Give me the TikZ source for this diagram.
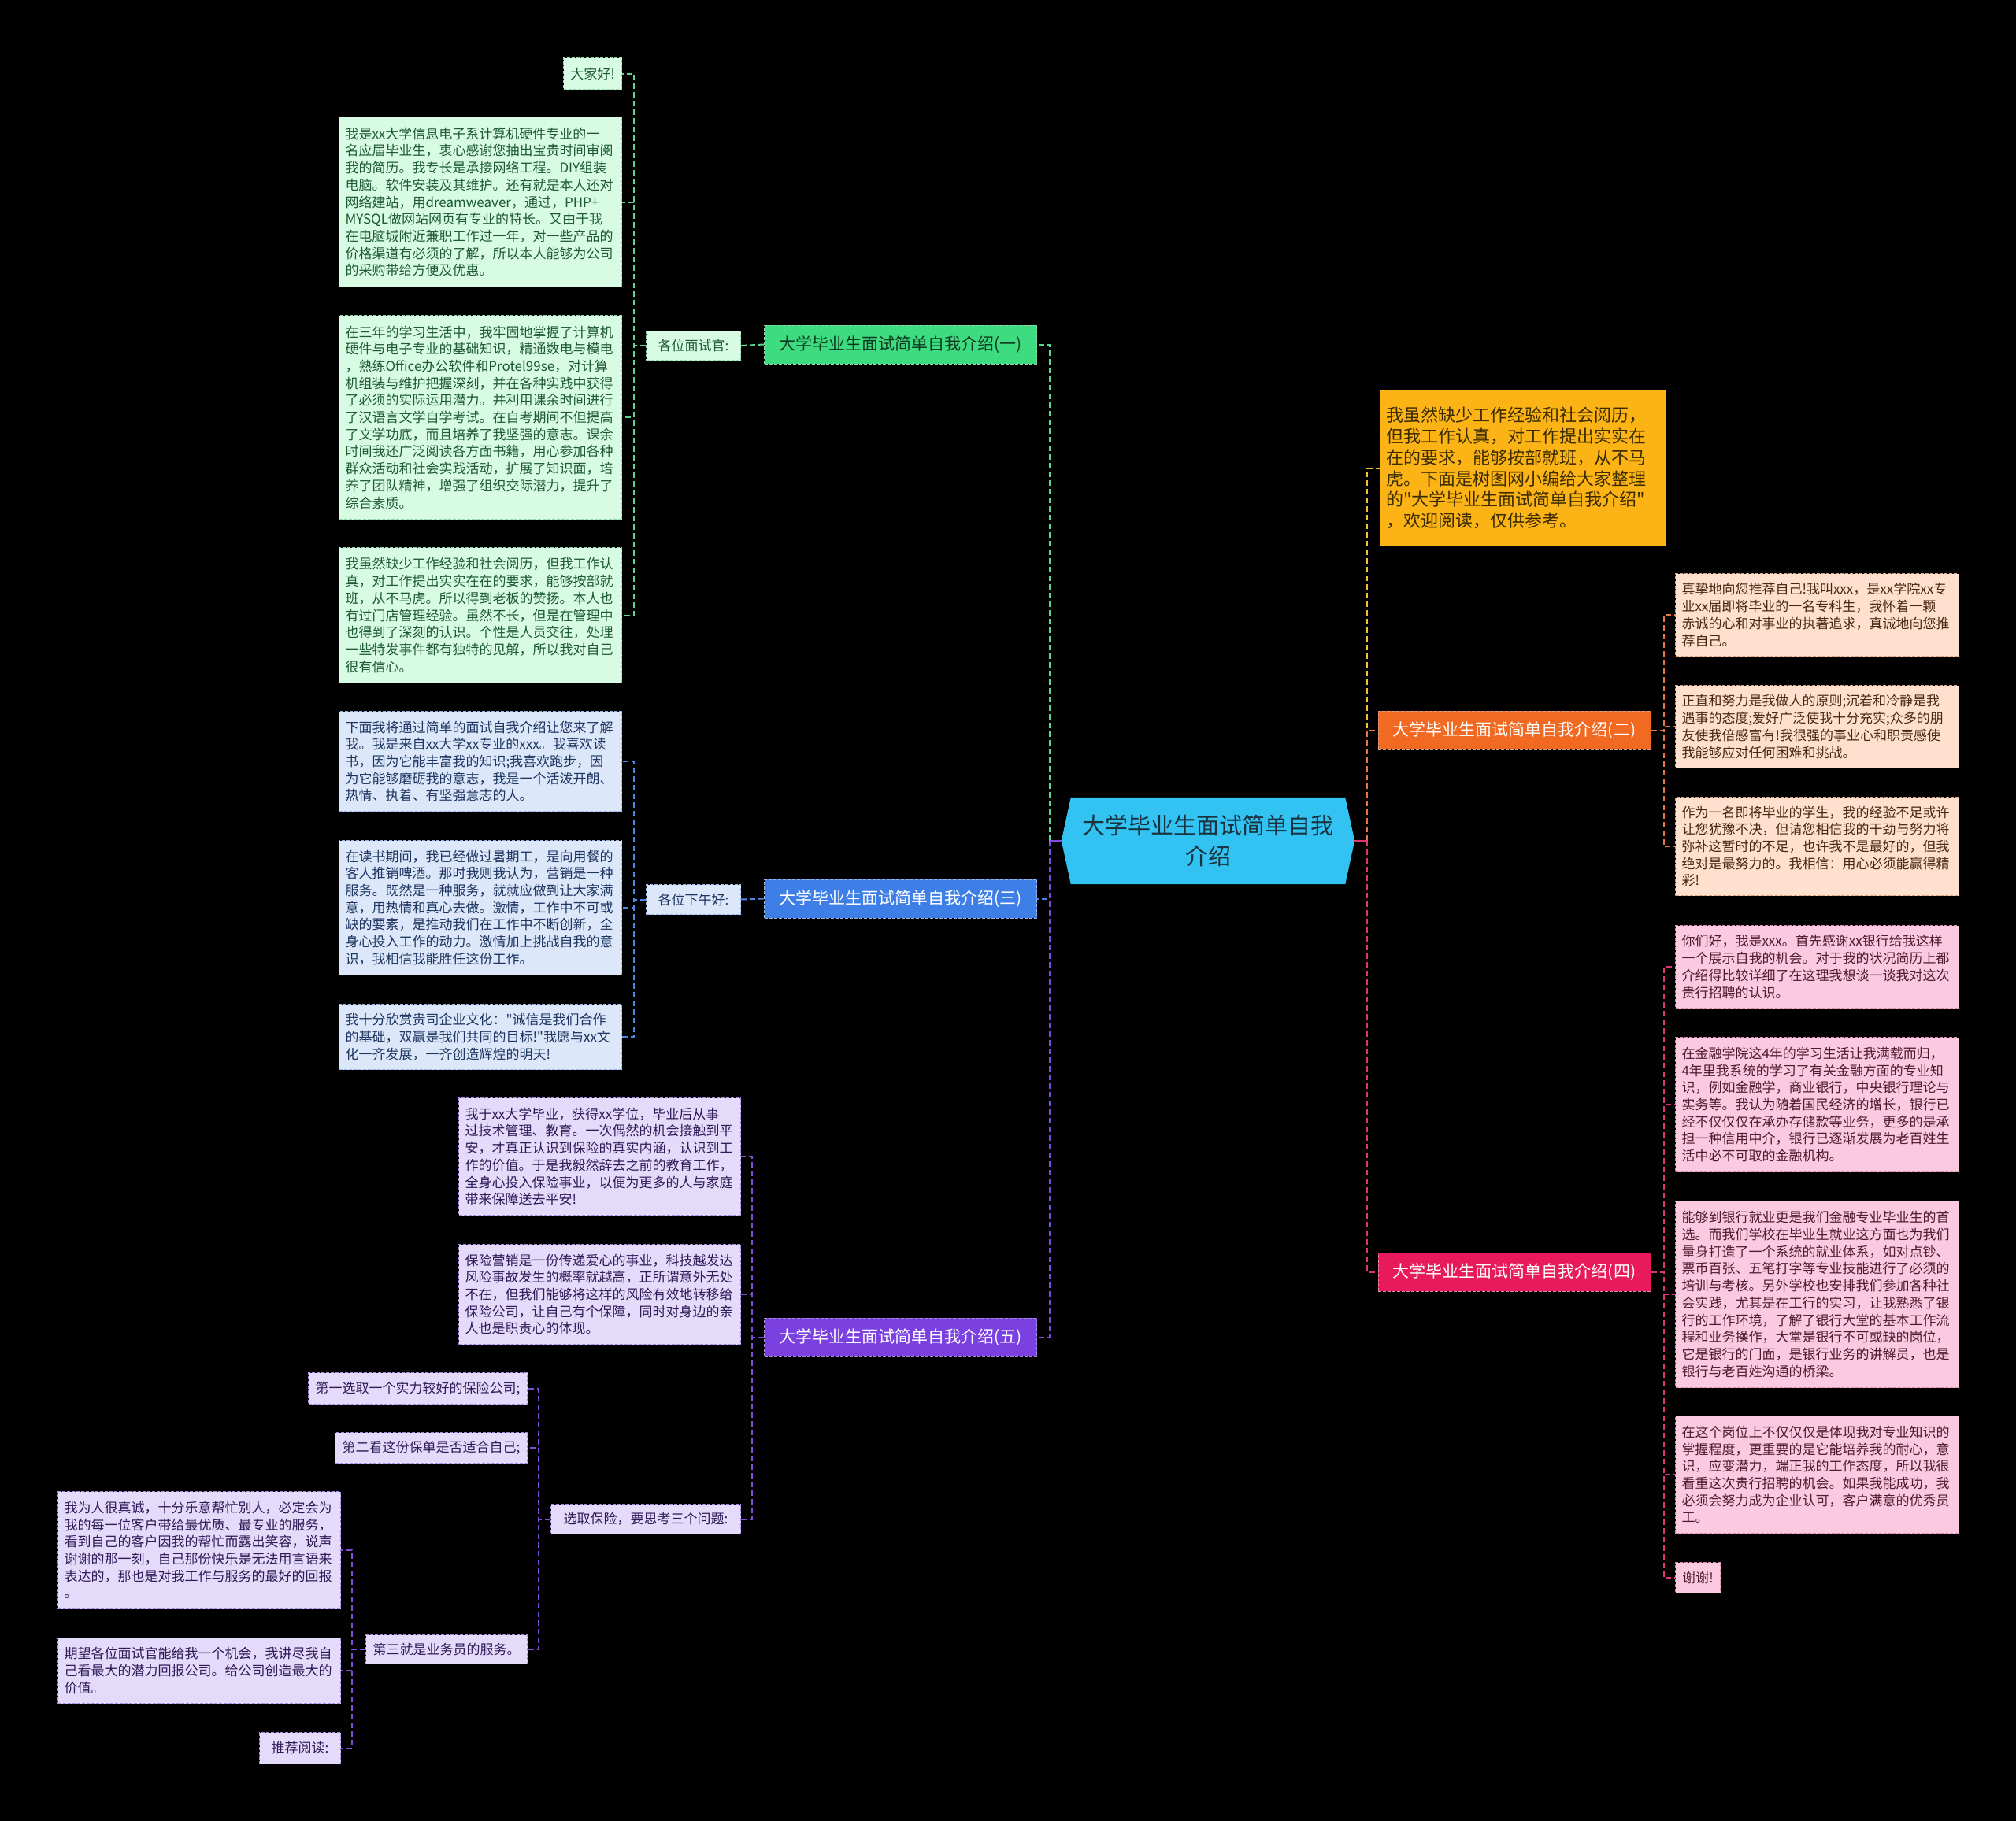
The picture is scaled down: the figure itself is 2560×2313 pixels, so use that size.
\documentclass[tikz,border=0pt]{standalone}
\usepackage{fontspec}
\setmainfont{Noto Sans CJK SC}[Ligatures=TeXOff]
\usetikzlibrary{backgrounds}
\definecolor{cyM}{HTML}{32C3F3}\definecolor{cyT}{HTML}{18323E}
\definecolor{gM}{HTML}{3EDC81}\definecolor{gT}{HTML}{0F3A20}\definecolor{gL}{HTML}{D8FBE4}\definecolor{gD}{HTML}{8FD9AA}\definecolor{gTx}{HTML}{1E5A33}\definecolor{gC}{HTML}{5CD48E}
\definecolor{bM}{HTML}{3D7FE6}\definecolor{bL}{HTML}{DCE7FA}\definecolor{bD}{HTML}{9AB6E6}\definecolor{bTx}{HTML}{1D3560}\definecolor{bC}{HTML}{4D86E3}
\definecolor{pM}{HTML}{7B40E0}\definecolor{pL}{HTML}{E4DAFA}\definecolor{pD}{HTML}{A88BE0}\definecolor{pTx}{HTML}{2E1B57}\definecolor{pC}{HTML}{7F4FDB}
\definecolor{yM}{HTML}{FBB315}\definecolor{yT}{HTML}{3A2B00}\definecolor{yD}{HTML}{D99A10}\definecolor{yC}{HTML}{F2C12E}
\definecolor{oM}{HTML}{F26A21}\definecolor{oL}{HTML}{FDE1CE}\definecolor{oD}{HTML}{D9A080}\definecolor{oTx}{HTML}{4A2613}\definecolor{oC}{HTML}{E5773F}
\definecolor{rM}{HTML}{E81A5C}\definecolor{rL}{HTML}{FCCAE0}\definecolor{rD}{HTML}{D98AAE}\definecolor{rTx}{HTML}{4F1B31}\definecolor{rC}{HTML}{DD3572}
\tikzset{
 txt/.style={font=\fontsize{17pt}{21.7pt}\selectfont, inner xsep=8pt, inner ysep=0pt, anchor=north west, dash pattern=on 4pt off 2pt, line width=1pt},
 para/.style={txt, align=left},
 tag/.style={txt, align=center},
 gbox/.style={fill=gL, draw=gD, text=gTx},
 bbox/.style={fill=bL, draw=bD, text=bTx},
 pbox/.style={fill=pL, draw=pD, text=pTx},
 obox/.style={fill=oL, draw=oD, text=oTx},
 rbox/.style={fill=rL, draw=rD, text=rTx},
 branch/.style={font=\fontsize{21pt}{26pt}\selectfont, minimum width=346pt, minimum height=49pt, inner sep=0pt, dash pattern=on 4pt off 2pt, line width=1pt},
 con/.style={line width=2pt, dash pattern=on 7pt off 4pt},
}
\begin{document}
\begin{tikzpicture}[x=1pt,y=-1pt]
\useasboundingbox (0,0) rectangle (2560,2313);
% central
\node[font=\fontsize{29pt}{39pt}\selectfont, text=cyT, align=center, minimum width=372pt, minimum height=110pt, inner sep=0pt] (c) at (1534,1068) {大学毕业生面试简单自我\\介绍};
\begin{scope}[on background layer]
\fill[black] (0,0) rectangle (2560,2313);
\fill[cyM] (c.west) -- ([xshift=12pt]c.north west) -- ([xshift=-12pt]c.north east) -- (c.east) -- ([xshift=-12pt]c.south east) -- ([xshift=12pt]c.south west) -- cycle;
\end{scope}
% branches
\node[branch, fill=gM, draw=gD, text=gT] (b1) at (1143.5,437.5) {大学毕业生面试简单自我介绍(一)};
\node[branch, fill=bM, draw=bD, text=white] (b3) at (1143.5,1141.5) {大学毕业生面试简单自我介绍(三)};
\node[branch, fill=pM, draw=pD, text=white] (b5) at (1143.5,1698.5) {大学毕业生面试简单自我介绍(五)};
\node[branch, fill=oM, draw=oD, text=white] (b2) at (1923,927.5) {大学毕业生面试简单自我介绍(二)};
\node[branch, fill=rM, draw=rD, text=white] (b4) at (1923,1615.5) {大学毕业生面试简单自我介绍(四)};
\node[txt, font=\fontsize{22pt}{26.7pt}\selectfont, align=left, fill=yM, draw=yD, text=yT, text width=347pt, minimum height=198pt] (yb) at (1752,495) {我虽然缺少工作经验和社会阅历，\\但我工作认真，对工作提出实实在\\在的要求，能够按部就班，从不马\\虎。下面是树图网小编给大家整理\\的"大学毕业生面试简单自我介绍"\\，欢迎阅读，仅供参考。};
% green group
\node[tag, gbox, minimum width=120pt, minimum height=37pt] (l1) at (820,420) {各位面试官:};
\node[tag, gbox, minimum width=74pt, minimum height=40pt] (g0) at (715,73) {大家好!};
\node[para, gbox, text width=343pt, minimum height=216pt] (g1) at (430,148) {我是xx大学信息电子系计算机硬件专业的一\\名应届毕业生，衷心感谢您抽出宝贵时间审阅\\我的简历。我专长是承接网络工程。DIY组装\\电脑。软件安装及其维护。还有就是本人还对\\网络建站，用dreamweaver，通过，PHP+\\MYSQL做网站网页有专业的特长。又由于我\\在电脑城附近兼职工作过一年，对一些产品的\\价格渠道有必须的了解，所以本人能够为公司\\的采购带给方便及优惠。};
\node[para, gbox, text width=343pt, minimum height=259pt] (g2) at (430,400) {在三年的学习生活中，我牢固地掌握了计算机\\硬件与电子专业的基础知识，精通数电与模电\\，熟练Office办公软件和Protel99se，对计算\\机组装与维护把握深刻，并在各种实践中获得\\了必须的实际运用潜力。并利用课余时间进行\\了汉语言文学自学考试。在自考期间不但提高\\了文学功底，而且培养了我坚强的意志。课余\\时间我还广泛阅读各方面书籍，用心参加各种\\群众活动和社会实践活动，扩展了知识面，培\\养了团队精神，增强了组织交际潜力，提升了\\综合素质。};
\node[para, gbox, text width=343pt, minimum height=172pt] (g3) at (430,695) {我虽然缺少工作经验和社会阅历，但我工作认\\真，对工作提出实实在在的要求，能够按部就\\班，从不马虎。所以得到老板的赞扬。本人也\\有过门店管理经验。虽然不长，但是在管理中\\也得到了深刻的认识。个性是人员交往，处理\\一些特发事件都有独特的见解，所以我对自己\\很有信心。};
% blue group
\node[tag, bbox, minimum width=120pt, minimum height=38pt] (l3) at (820,1123) {各位下午好:};
\node[para, bbox, text width=343pt, minimum height=127pt] (k1) at (430,903) {下面我将通过简单的面试自我介绍让您来了解\\我。我是来自xx大学xx专业的xxx。我喜欢读\\书，因为它能丰富我的知识;我喜欢跑步，因\\为它能够磨砺我的意志，我是一个活泼开朗、\\热情、执着、有坚强意志的人。};
\node[para, bbox, text width=343pt, minimum height=171pt] (k2) at (430,1067) {在读书期间，我已经做过暑期工，是向用餐的\\客人推销啤酒。那时我则我认为，营销是一种\\服务。既然是一种服务，就就应做到让大家满\\意，用热情和真心去做。激情，工作中不可或\\缺的要素，是推动我们在工作中不断创新，全\\身心投入工作的动力。激情加上挑战自我的意\\识，我相信我能胜任这份工作。};
\node[para, bbox, text width=343pt, minimum height=83pt] (k3) at (430,1275) {我十分欣赏贵司企业文化："诚信是我们合作\\的基础，双赢是我们共同的目标!"我愿与xx文\\化一齐发展，一齐创造辉煌的明天!};
% purple group
\node[para, pbox, text width=342pt, minimum height=149pt] (p1) at (582,1394) {我于xx大学毕业，获得xx学位，毕业后从事\\过技术管理、教育。一次偶然的机会接触到平\\安，才真正认识到保险的真实内涵，认识到工\\作的价值。于是我毅然辞去之前的教育工作，\\全身心投入保险事业，以便为更多的人与家庭\\带来保障送去平安!};
\node[para, pbox, text width=342pt, minimum height=127pt] (p2) at (582,1580) {保险营销是一份传递爱心的事业，科技越发达\\风险事故发生的概率就越高，正所谓意外无处\\不在，但我们能够将这样的风险有效地转移给\\保险公司，让自己有个保障，同时对身边的亲\\人也是职责心的体现。};
\node[tag, pbox, minimum width=241pt, minimum height=38pt] (l5) at (699,1910) {选取保险，要思考三个问题:};
\node[tag, pbox, minimum width=278pt, minimum height=40pt] (q1) at (391,1743) {第一选取一个实力较好的保险公司;};
\node[tag, pbox, minimum width=244pt, minimum height=39pt] (q2) at (425,1819) {第二看这份保单是否适合自己;};
\node[tag, pbox, minimum width=205pt, minimum height=37pt] (q3) at (464,2076) {第三就是业务员的服务。};
\node[para, pbox, text width=343pt, minimum height=149pt] (r1) at (73,1894) {我为人很真诚，十分乐意帮忙别人，必定会为\\我的每一位客户带给最优质、最专业的服务，\\看到自己的客户因我的帮忙而露出笑容，说声\\谢谢的那一刻，自己那份快乐是无法用言语来\\表达的，那也是对我工作与服务的最好的回报\\。};
\node[para, pbox, text width=343pt, minimum height=83pt] (r2) at (73,2080) {期望各位面试官能给我一个机会，我讲尽我自\\己看最大的潜力回报公司。给公司创造最大的\\价值。};
\node[tag, pbox, minimum width=103pt, minimum height=40pt] (r3) at (329,2200) {推荐阅读:};
% orange group
\node[para, obox, text width=344pt, minimum height=105pt] (o1) at (2127,728) {真挚地向您推荐自己!我叫xxx，是xx学院xx专\\业xx届即将毕业的一名专科生，我怀着一颗\\赤诚的心和对事业的执著追求，真诚地向您推\\荐自己。};
\node[para, obox, text width=344pt, minimum height=105pt] (o2) at (2127,870) {正直和努力是我做人的原则;沉着和冷静是我\\遇事的态度;爱好广泛使我十分充实;众多的朋\\友使我倍感富有!我很强的事业心和职责感使\\我能够应对任何困难和挑战。};
\node[para, obox, text width=344pt, minimum height=125pt] (o3) at (2127,1012) {作为一名即将毕业的学生，我的经验不足或许\\让您犹豫不决，但请您相信我的干劲与努力将\\弥补这暂时的不足，也许我不是最好的，但我\\绝对是最努力的。我相信：用心必须能赢得精\\彩!};
% pink group
\node[para, rbox, text width=344pt, minimum height=105pt] (s1) at (2127,1175) {你们好，我是xxx。首先感谢xx银行给我这样\\一个展示自我的机会。对于我的状况简历上都\\介绍得比较详细了在这理我想谈一谈我对这次\\贵行招聘的认识。};
\node[para, rbox, text width=344pt, minimum height=171pt] (s2) at (2127,1317) {在金融学院这4年的学习生活让我满载而归，\\4年里我系统的学习了有关金融方面的专业知\\识，例如金融学，商业银行，中央银行理论与\\实务等。我认为随着国民经济的增长，银行已\\经不仅仅仅在承办存储款等业务，更多的是承\\担一种信用中介，银行已逐渐发展为老百姓生\\活中必不可取的金融机构。};
\node[para, rbox, text width=344pt, minimum height=237pt] (s3) at (2127,1525) {能够到银行就业更是我们金融专业毕业生的首\\选。而我们学校在毕业生就业这方面也为我们\\量身打造了一个系统的就业体系，如对点钞、\\票币百张、五笔打字等专业技能进行了必须的\\培训与考核。另外学校也安排我们参加各种社\\会实践，尤其是在工行的实习，让我熟悉了银\\行的工作环境，了解了银行大堂的基本工作流\\程和业务操作，大堂是银行不可或缺的岗位，\\它是银行的门面，是银行业务的讲解员，也是\\银行与老百姓沟通的桥梁。};
\node[para, rbox, text width=344pt, minimum height=149pt] (s4) at (2127,1798) {在这个岗位上不仅仅仅是体现我对专业知识的\\掌握程度，更重要的是它能培养我的耐心，意\\识，应变潜力，端正我的工作态度，所以我很\\看重这次贵行招聘的机会。如果我能成功，我\\必须会努力成为企业认可，客户满意的优秀员\\工。};
\node[tag, rbox, minimum width=57pt, minimum height=39pt] (s5) at (2127,1984) {谢谢!};
% connectors: center
\coordinate (cl) at (1333,1068);
\coordinate (cr) at (1736,1068);
\draw[gC, con] (cl) |- (b1.east);
\draw[bC, con] (cl) |- (b3.east);
\draw[pC, con] (cl) |- (b5.east);
\draw[pC, line width=2pt] (c.west) -- (cl);
\draw[yC, con] (cr) |- (yb.west);
\draw[oC, con] (cr) |- (b2.west);
\draw[rC, con] (cr) |- (b4.west);
\draw[rC, line width=2pt] (c.east) -- (cr);
% green
\draw[gC, con] (b1.west) -- (l1.east);
\foreach \n in {g0,g1,g2,g3} \draw[gC, con] (l1.west) -- ++(-15,0) |- (\n.east);
% blue
\draw[bC, con] (b3.west) -- (l3.east);
\foreach \n in {k1,k2,k3} \draw[bC, con] (l3.west) -- ++(-15,0) |- (\n.east);
% purple
\foreach \n in {p1,p2,l5} \draw[pC, con] (b5.west) -- ++(-15,0) |- (\n.east);
\foreach \n in {q1,q2,q3} \draw[pC, con] (l5.west) -- ++(-15,0) |- (\n.east);
\foreach \n in {r1,r2,r3} \draw[pC, con] (q3.west) -- ++(-17,0) |- (\n.east);
% orange
\foreach \n in {o1,o2,o3} \draw[oC, con] (b2.east) -- ++(16,0) |- (\n.west);
% pink
\foreach \n in {s1,s2,s3,s4,s5} \draw[rC, con] (b4.east) -- ++(16,0) |- (\n.west);
\end{tikzpicture}
\end{document}
